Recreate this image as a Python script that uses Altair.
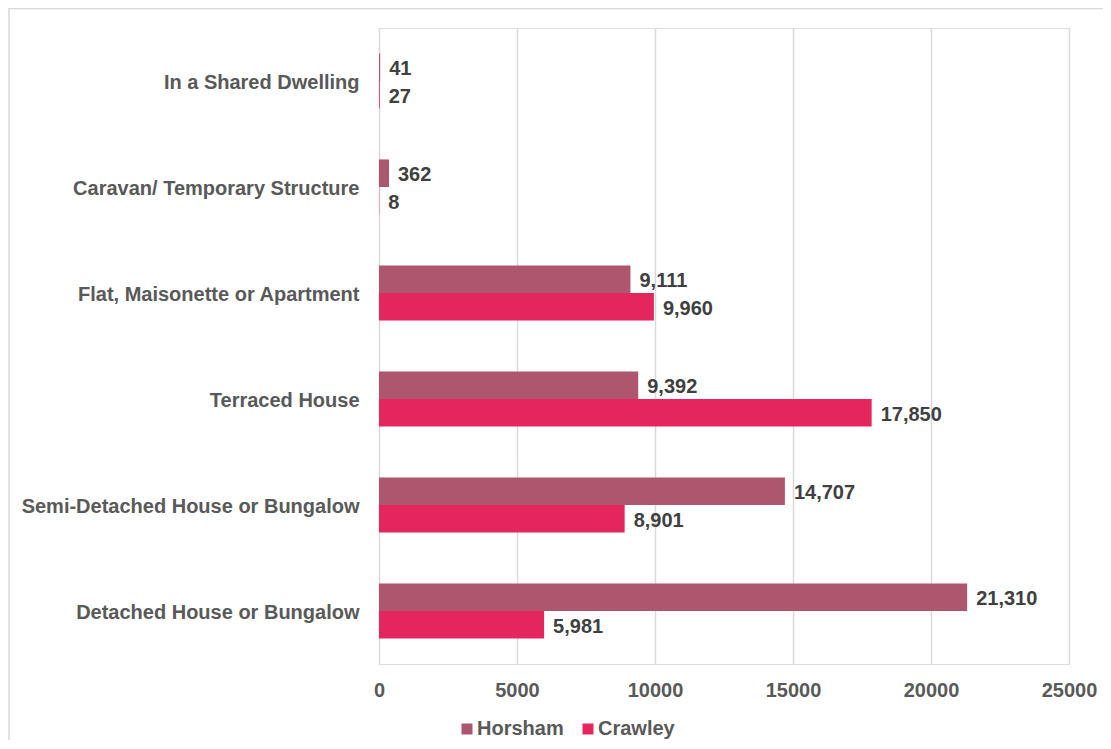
import altair as alt
import pandas as pd

categories = [
    "In a Shared Dwelling",
    "Caravan/ Temporary Structure",
    "Flat, Maisonette or Apartment",
    "Terraced House",
    "Semi-Detached House or Bungalow",
    "Detached House or Bungalow",
]
series = ["Horsham", "Crawley"]
horsham = [41, 362, 9111, 9392, 14707, 21310]
crawley = [27, 8, 9960, 17850, 8901, 5981]
colors = ["#AD566E", "#E5265E"]
x_ticks = [0, 5000, 10000, 15000, 20000, 25000]

rows = []
for c, h, w in zip(categories, horsham, crawley):
    rows.append({"cat": c, "series": "Horsham", "value": h})
    rows.append({"cat": c, "series": "Crawley", "value": w})
df = pd.DataFrame(rows)

FONT = "Liberation Sans"

y_enc = alt.Y(
    "cat:N",
    sort=categories,
    scale=alt.Scale(paddingInner=0.48, paddingOuter=0.24),
    axis=alt.Axis(
        title=None, ticks=False, domain=False, grid=False,
        labelPadding=20, labelFontSize=20, labelFontWeight="bold",
        labelColor="#595959", labelFont=FONT, labelLimit=400,
        labelOffset=2,
    ),
)
x_enc = alt.X(
    "value:Q",
    scale=alt.Scale(domain=[0, 25000], nice=False),
    axis=alt.Axis(
        title=None, values=x_ticks, ticks=False, domain=False, grid=True,
        gridColor="#D9D9D9", gridWidth=1.5, labelPadding=16,
        labelFontSize=20, labelFontWeight="bold", labelColor="#595959",
        labelFont=FONT, format="d", labelFlush=False,
    ),
)
yoff = alt.YOffset("series:N", sort=series, scale=alt.Scale(paddingInner=0, paddingOuter=0))

base = alt.Chart(df)

bars = base.mark_bar().encode(
    y=y_enc,
    x=x_enc,
    yOffset=yoff,
    color=alt.Color(
        "series:N",
        sort=series,
        scale=alt.Scale(domain=series, range=colors),
        legend=alt.Legend(
            title=None, orient="none", direction="horizontal",
            legendX=78, legendY=691, symbolType="square", symbolSize=121,
            symbolStrokeWidth=0, labelFontSize=20, labelFontWeight="bold",
            labelColor="#595959", labelFont=FONT, columnPadding=14,
            labelOffset=0,
        ),
    ),
)

labels = base.mark_text(
    align="left", baseline="middle", dx=9, dy=2, fontSize=20, fontWeight="bold",
    color="#404040", font=FONT,
).encode(
    y=alt.Y("cat:N", sort=categories),
    x=alt.X("value:Q"),
    yOffset=yoff,
    text=alt.Text("value:Q", format=","),
)

border = alt.Chart(alt.Data(values=[{"a": 1}])).mark_rect(
    fill="white", fillOpacity=0, stroke="#D9D9D9", strokeWidth=1.5, clip=False,
).encode(
    x=alt.value(-370), x2=alt.value(900), y=alt.value(-19.5), y2=alt.value(900),
)

chart = alt.layer(border, bars, labels).properties(
    width=690,
    height=636,
    autosize=alt.AutoSizeParams(type="none"),
    padding={"left": 371, "top": 20, "right": 34, "bottom": 76},
).configure_view(stroke=None).configure(background="white")

chart.save("out.html", embed_options={"renderer": "svg", "actions": False})
